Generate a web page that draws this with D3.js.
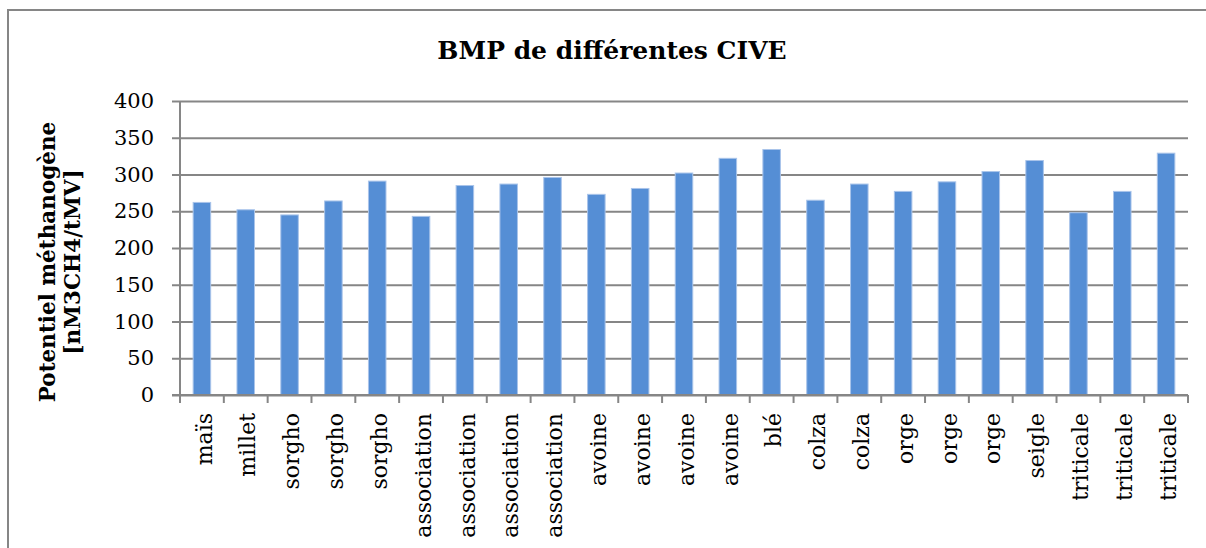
<!DOCTYPE html>
<html>
<head>
    <meta charset="utf-8">
    <title>BMP de différentes CIVE</title>
    <script src="https://d3js.org/d3.v7.min.js"></script>
    <style>
        html, body { margin: 0; background: #fff; overflow: hidden; }
        svg { display: block; }
        text { font-family: "DejaVu Serif", serif; fill: #000; }
        .grid line { stroke: #868686; stroke-width: 2px; }
        .axis path, .axis line { stroke: #868686; stroke-width: 2px; }
        .bar { fill: #558ed5; stroke: #a9c4ea; stroke-width: 1px; }
    </style>
</head>
<body>
<script>
    // chart data
    var categories = ["maïs", "millet", "sorgho", "sorgho", "sorgho",
        "association", "association", "association", "association",
        "avoine", "avoine", "avoine", "avoine", "blé", "colza", "colza",
        "orge", "orge", "orge", "seigle", "triticale", "triticale", "triticale"];
    var values = [262, 252, 245, 264, 291, 243, 285, 287, 296, 273, 281, 302,
        322, 334, 265, 287, 277, 290, 304, 319, 248, 277, 329];
    var yTicks = [0, 50, 100, 150, 200, 250, 300, 350, 400];

    var W = 1206, H = 548;
    var margin = {top: 101, left: 180, right: 18, bottom: 153};
    var width = W - margin.left - margin.right,
        height = H - margin.top - margin.bottom;

    var svg = d3.select("body").append("svg")
        .attr("width", W)
        .attr("height", H);

    // outer frame: only the left and top edges are inside the picture
    svg.append("path")
        .attr("d", "M8," + H + "V10H" + W)
        .attr("fill", "none")
        .attr("stroke", "#868686")
        .attr("stroke-width", 2);

    svg.append("text")
        .attr("x", 612).attr("y", 59)
        .attr("text-anchor", "middle")
        .style("font-weight", "bold")
        .style("font-size", "25px")
        .text("BMP de différentes CIVE");

    var g = svg.append("g")
        .attr("transform", "translate(" + margin.left + "," + margin.top + ")");

    var x = d3.scaleBand()
        .domain(d3.range(categories.length))
        .range([0, width])
        .paddingInner(0.6)
        .paddingOuter(0.3);
    var y = d3.scaleLinear().domain([0, 400]).range([height, 0]);

    // horizontal gridlines with outward ticks
    g.append("g")
        .attr("class", "grid axis")
        .call(d3.axisLeft(y).tickValues(yTicks).tickSize(-width).tickPadding(0))
        .call(function(a) { a.select(".domain").remove(); })
        .call(function(a) { a.selectAll(".tick text").remove(); });
    g.append("g")
        .attr("class", "axis")
        .call(d3.axisLeft(y).tickValues(yTicks).tickSize(8).tickPadding(18))
        .call(function(a) {
            a.select(".domain").attr("d", "M0," + height + "V0");
            a.selectAll("text").style("font-size", "21px").attr("fill", "#000");
        });

    // bars
    g.selectAll(".bar")
        .data(values)
        .enter().append("rect")
        .attr("class", "bar")
        .attr("x", function(d, i) { return x(i); })
        .attr("width", x.bandwidth())
        .attr("y", function(d) { return y(d); })
        .attr("height", function(d) { return height - y(d); });

    // x axis: ticks between categories
    var step = width / categories.length;
    var xb = g.append("g")
        .attr("class", "axis")
        .attr("transform", "translate(0," + height + ")");
    xb.append("path")
        .attr("d", "M-8,0H" + width);
    xb.selectAll(".sep")
        .data(d3.range(categories.length + 1))
        .enter().append("line")
        .attr("x1", function(i) { return i * step; })
        .attr("x2", function(i) { return i * step; })
        .attr("y1", 0).attr("y2", 8);
    xb.selectAll(".lab")
        .data(categories)
        .enter().append("text")
        .attr("transform", function(d, i) {
            return "translate(" + (x(i) + x.bandwidth() / 2 + 2) + ",18) rotate(-90)";
        })
        .attr("dy", "0.35em")
        .attr("text-anchor", "end")
        .style("font-size", "22px")
        .text(function(d) { return d; });

    // y axis title
    var yt = svg.append("text")
        .attr("transform", "translate(47,262) rotate(-90)")
        .attr("text-anchor", "middle")
        .style("font-weight", "bold")
        .style("font-size", "21.5px");
    yt.append("tspan").attr("x", 0).attr("dy", "0.35em").text("Potentiel méthanogène");
    yt.append("tspan").attr("x", 0).attr("dy", "1.2em").text("[nM3CH4/tMV]");
</script>
</body>
</html>
